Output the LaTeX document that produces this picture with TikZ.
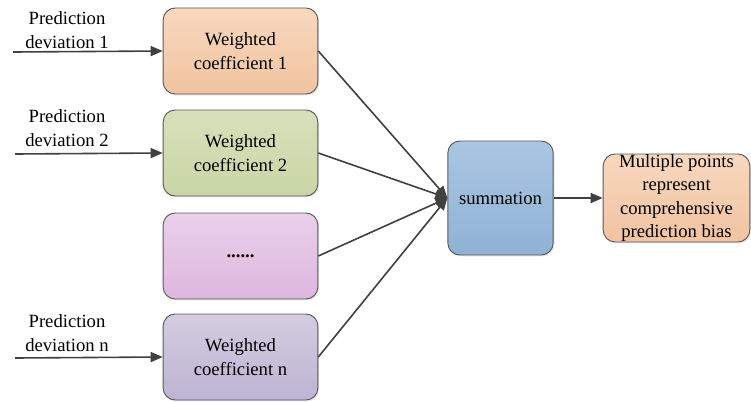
\documentclass[tikz,border=0pt]{standalone}
\usepackage{fontspec}
\setmainfont{Liberation Serif}
\usetikzlibrary{arrows.meta,shadows}

\definecolor{peachTop}{HTML}{F8D8BE}
\definecolor{peachBot}{HTML}{F1C3A1}
\definecolor{greenTop}{HTML}{D8E0BA}
\definecolor{greenBot}{HTML}{C9D6A6}
\definecolor{pinkTop}{HTML}{EAD0EA}
\definecolor{pinkBot}{HTML}{DDB6DF}
\definecolor{lilacTop}{HTML}{D4CDE0}
\definecolor{lilacBot}{HTML}{BDB3D3}
\definecolor{blueTop}{HTML}{AAC6E2}
\definecolor{blueBot}{HTML}{8FB2D5}

\begin{document}
\begin{tikzpicture}
[x=0.75pt,y=-0.75pt,
  boxDecorate/.style={rounded corners=9pt,draw=black!65,line width=0.7pt,
    align=center,inner sep=1pt,font=\rmfamily\fontsize{14}{17.5}\selectfont,
    drop shadow={opacity=0.2,shadow xshift=1pt,shadow yshift=-1pt}},
  shadePair/.style 2 args={top color=#1,bottom color=#2},
  labelDecorate/.style={align=center,inner sep=0pt,font=\rmfamily\fontsize{14}{17.5}\selectfont},
  arrowDecorate/.style={-{Triangle[length=9pt,width=7.5pt]},draw=black!75,line width=1.2pt}]
\useasboundingbox (0,0) rectangle (751,401);
%% weighting boxes
\foreach \nodename/\y/\ctop/\cbot/\txt in {
  w1/51/peachTop/peachBot/{Weighted\\coefficient 1},
  w2/153/greenTop/greenBot/{Weighted\\coefficient 2},
  w3/256/pinkTop/pinkBot/{\textbf{......}},
  wn/357/lilacTop/lilacBot/{Weighted\\coefficient n}}
{
  \node (\nodename) at (240.5,\y) [boxDecorate,shadePair={\ctop}{\cbot},
    minimum width=116pt,minimum height=64.5pt] {\txt};
}
%% sum and result
\node (sum) at (500.5,198) [boxDecorate,shadePair={blueTop}{blueBot},
  minimum width=79pt,minimum height=85.5pt] {summation};
\node (out) at (676.5,198) [boxDecorate,shadePair={peachTop}{peachBot},
  minimum width=110pt,minimum height=66pt,inner sep=0pt]
  {Multiple points\\represent\\comprehensive\\prediction bias};
%% inputs
\coordinate (in1) at (13,52);
\coordinate (in2) at (15,154);
\coordinate (inn) at (15,358);
\node (lab1) at (67,30) [labelDecorate] {Prediction\\deviation 1};
\node (lab2) at (67,128) [labelDecorate] {Prediction\\deviation 2};
\node (labn) at (67,333) [labelDecorate] {Prediction\\deviation n};
%% edges
\path
\foreach \startnode/\endnode in {
  in1/w1.west, in2/w2.west, inn/wn.west, w1.east/sum.west, w2.east/sum.west,
  w3.east/sum.west, wn.east/sum.west, sum.east/out.west}
{
  (\startnode) edge[arrowDecorate] (\endnode)
};
\end{tikzpicture}
\end{document}
